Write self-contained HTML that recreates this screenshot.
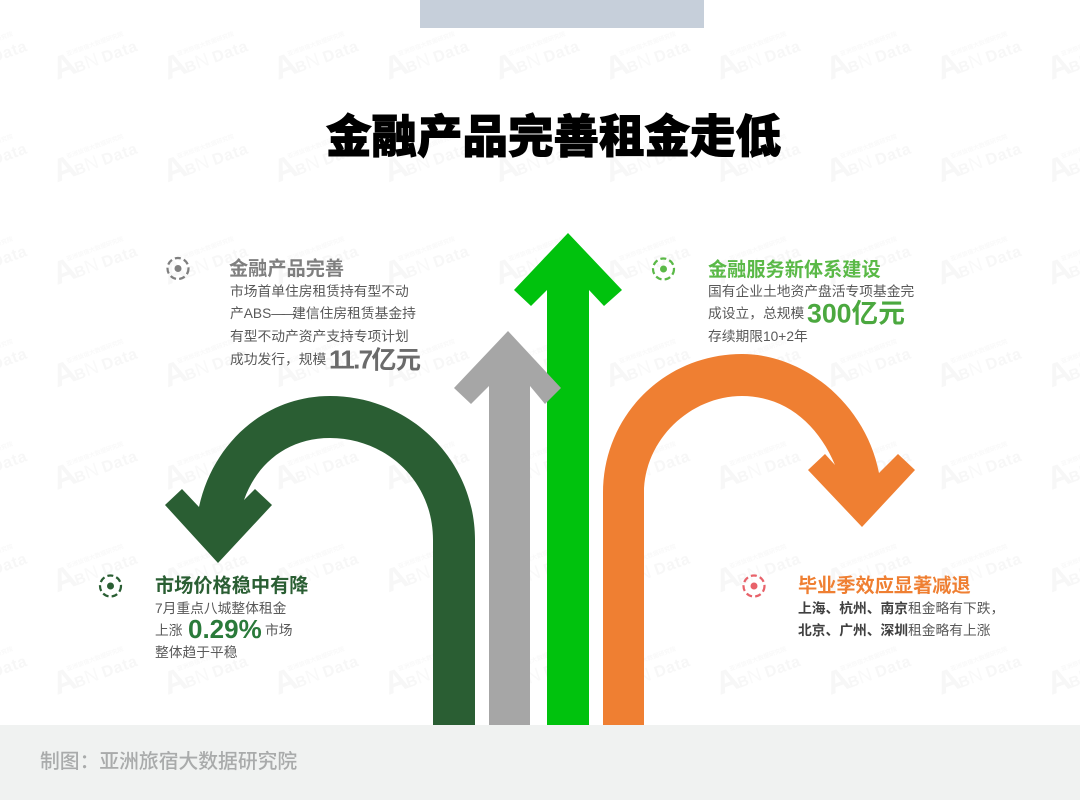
<!DOCTYPE html>
<html><head><meta charset="utf-8"><style>
html,body{margin:0;padding:0;background:#fff}
svg{display:block}
text{font-family:"Liberation Sans","Noto Sans CJK SC",sans-serif}
.b{font-size:13.75px}
.h{font-size:19.2px;font-weight:700}
.n{font-size:26.7px;font-weight:700}
</style></head><body>
<svg width="1080" height="800" viewBox="0 0 1080 800" xmlns="http://www.w3.org/2000/svg">
<defs>
<pattern id="wm" patternUnits="userSpaceOnUse" x="50" y="25" width="110.5" height="102.5">
<g transform="translate(7,55) rotate(-20)" fill="#f7f7f7">
<text font-size="32" font-weight="700">A</text>
<text x="21" font-size="15" font-weight="700">B</text>
<text x="32" font-size="19" fill="#f9f9f9">N</text>
<text x="50" font-size="16" font-weight="700" letter-spacing=".6">Data</text>
<text x="18" y="-19" font-size="6" font-weight="700" fill="#f9f9f9">亚洲旅宿大数据研究院</text>
</g>
</pattern>
</defs>
<rect width="1080" height="800" fill="#fff"/>
<rect width="1080" height="725" fill="url(#wm)"/>
<rect x="420" y="0" width="284" height="28" fill="#c6cfda"/>
<rect x="0" y="725" width="1080" height="75" fill="#f0f2f1"/>

<text x="553.500" y="152.500" text-anchor="middle" font-size="45.500" font-weight="900" fill="#000" stroke="#000" stroke-width="1">金融产品完善租金走低</text>

<!-- arrows -->
<path fill="#00c20d" d="M568 233L622 290L604 306L589 290V725H547V290L531 306L514 290Z"/>
<path fill="#a6a6a6" d="M508 331L561 388L545 404L530 386V725H489V386L471 404L454 388Z"/>
<path fill="#2a5e33" d="M475 725V540C475 460 410 396 330 396C265 396 213 443 199 507L182 489L165 505L218 563L272 505L255 489L244 500C257 463 288 438 330 438C385 438 433 480 433 540V725Z"/>
<path fill="#ef7f32" d="M603 725V493C603 415 665 354 742 354C805 354 866 405 879 473L898 454L915 470L862 527L808 470L825 454L835 465C818 424 785 396 742 396C690 396 644 440 644 493V725Z"/>

<!-- icons -->
<g fill="none" stroke-width="2.200" stroke-dasharray="6 3.200">
<circle cx="178" cy="268.500" r="10.500" stroke="#7f7f7f"/>
<circle cx="663.500" cy="269" r="10.500" stroke="#5ab947"/>
<circle cx="110.500" cy="586" r="10.500" stroke="#2a5e33"/>
<circle cx="754" cy="586" r="10.500" stroke="#e8626a"/>
</g>
<circle cx="178" cy="268.500" r="3.500" fill="#7f7f7f"/>
<circle cx="663.500" cy="269" r="3.500" fill="#5ab947"/>
<circle cx="110.500" cy="586" r="3.500" fill="#2a5e33"/>
<circle cx="754" cy="586" r="3.500" fill="#e8626a"/>

<!-- top left -->
<text class="h" x="229" y="275" fill="#7f7f7f">金融产品完善</text>
<text class="b" x="230" y="296" fill="#595959">市场首单住房租赁持有型不动</text>
<text class="b" x="230" y="318" fill="#595959">产ABS<tspan letter-spacing="-3.300">——</tspan>建信住房租赁基金持</text>
<text class="b" x="230" y="341" fill="#595959">有型不动产资产支持专项计划</text>
<text class="b" x="230" y="364" fill="#595959">成功发行，规模</text>
<text x="329" y="368.500" fill="#6b6b6b" font-weight="700" font-size="26" letter-spacing="-1.700">11.7<tspan font-size="25" letter-spacing="-.4">亿元</tspan></text>

<!-- top right -->
<text class="h" x="708" y="276" fill="#5ab947">金融服务新体系建设</text>
<text class="b" x="708" y="296" fill="#595959">国有企业土地资产盘活专项基金完</text>
<text class="b" x="708" y="318" fill="#595959">成设立，总规模</text>
<text class="n" x="807" y="322.500" fill="#4ba83f">300亿元</text>
<text class="b" x="708" y="341" fill="#595959">存续期限10+2年</text>

<!-- bottom left -->
<text class="h" x="155" y="592" fill="#2a5e33">市场价格稳中有降</text>
<text class="b" x="155" y="613" fill="#595959">7月重点八城整体租金</text>
<text class="b" x="155" y="635" fill="#595959">上涨</text>
<text x="188" y="638" fill="#2a7a3a" font-size="26" font-weight="700">0.29%</text>
<text class="b" x="265" y="635" fill="#595959">市场</text>
<text class="b" x="155" y="657" fill="#595959">整体趋于平稳</text>

<!-- bottom right -->
<text class="h" x="798" y="592" fill="#ef7f32">毕业季效应显著减退</text>
<text class="b" x="798" y="613" fill="#595959"><tspan font-weight="700" fill="#404040">上海、杭州、南京</tspan>租金略有下跌，</text>
<text class="b" x="798" y="635" fill="#595959"><tspan font-weight="700" fill="#404040">北京、广州、深圳</tspan>租金略有上涨</text>

<text x="40" y="768" font-size="19.800" font-weight="500" fill="#a9abab">制图：亚洲旅宿大数据研究院</text>
</svg>
</body></html>
